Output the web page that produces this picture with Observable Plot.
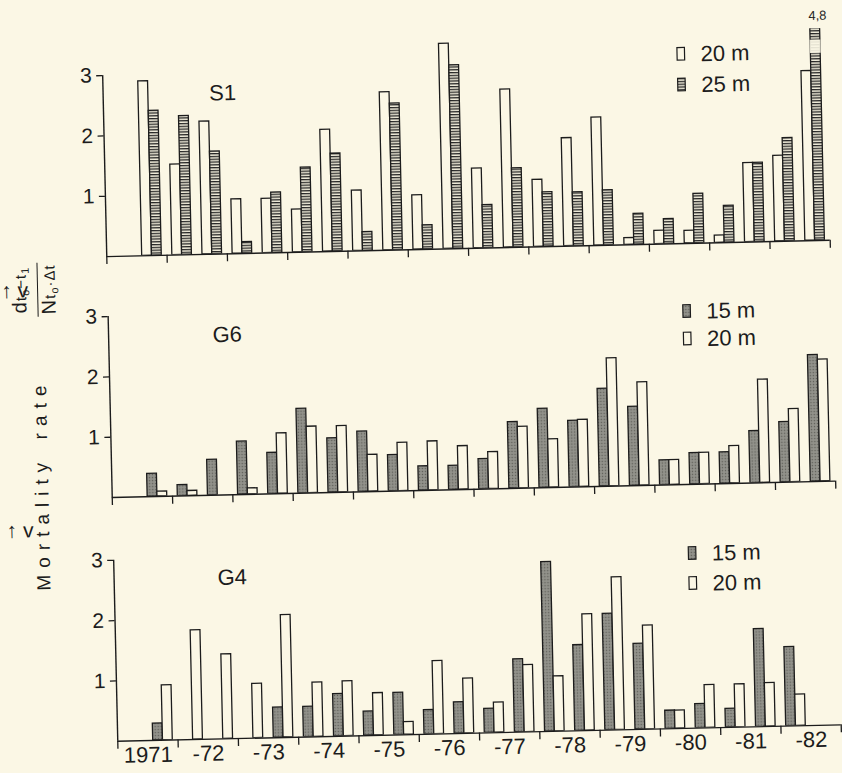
<!DOCTYPE html>
<html>
<head>
<meta charset="utf-8">
<script src="https://cdn.jsdelivr.net/npm/d3@7"></script>
<script src="https://cdn.jsdelivr.net/npm/@observablehq/plot@0.6"></script>
<style>
  html, body { margin: 0; padding: 0; background: #fbf7e5; overflow: hidden; }
  #fig {
    position: relative; width: 842px; height: 773px;
    transform: rotate(-1.3deg); transform-origin: 421px 386px;
    font-family: "Liberation Sans", Arial, Helvetica, sans-serif; color: #1c1c1c;
  }
  .panel { position: absolute; left: 0; width: 842px; }
  #overlay { position: absolute; left: 0; top: 0; pointer-events: none; }
  #frac {
    position: absolute; left: 39px; top: 281px;
    transform: translate(-50%, -50%) rotate(-90deg);
    text-align: center; white-space: nowrap; font-size: 20px; letter-spacing: 1px;
  }
  #frac .num { line-height: 22px; padding-bottom: 1px; }
  #frac .rule { height: 1.3px; background: #1c1c1c; width: 54px; margin: 0 auto; }
  #frac .den { line-height: 21px; }
  #frac small { font-size: 15px; }
  #frac sub { font-size: 11px; vertical-align: -3px; }
  #ytitle {
    position: absolute; left: 40px; top: 476px;
    transform: translate(-50%, -50%) rotate(-90deg);
    white-space: nowrap; font-size: 19px; letter-spacing: 7px;
  }
</style>
</head>
<body>
<svg width="0" height="0" style="position:absolute">
  <defs>
    <pattern id="hatch" width="4" height="2.8" patternUnits="userSpaceOnUse">
      <rect width="4" height="2.8" fill="#f1eddb"/>
      <rect width="4" height="1.3" fill="#262626"/>
    </pattern>
    <pattern id="stipple" width="3" height="3" patternUnits="userSpaceOnUse">
      <rect width="3" height="3" fill="#8b8b84"/>
      <rect x="0" y="0" width="1" height="1" fill="#5f5f59"/>
      <rect x="1.5" y="1.5" width="1" height="1" fill="#a6a69f"/>
    </pattern>
  </defs>
</svg>
<div id="fig">
  <div id="frac">
    <div class="num">d<small>t<sub>o</sub>−t<sub>1</sub></small></div>
    <div class="rule"></div>
    <div class="den">N<small>t<sub>o</sub>·Δt</small></div>
  </div>
  <div id="ytitle">Mortality&#8194;rate</div>
</div>
<script>
// Mortality rate per half-year period, 1971–1982.
// Each array holds 24 half-year slots: slot 0 = first half of 1971 ... slot 23 = second half of 1982.
const years = [1971, 1972, 1973, 1974, 1975, 1976, 1977, 1978, 1979, 1980, 1981, 1982];
const yearLabels = ["1971", "-72", "-73", "-74", "-75", "-76", "-77", "-78", "-79", "-80", "-81", "-82"];
const yTicks = [1, 2, 3];

// Station S1
const s1_20m = [null, 2.89, 1.50, 2.20, 0.90, 0.90, 0.71, 2.02, 1.00, 2.62, 0.90, 3.40,
                1.32, 2.62, 1.11, 1.79, 2.12, 0.11, 0.22, 0.21, 0.12, 1.31, 1.42, 2.81];
const s1_25m = [null, 2.40, 2.30, 1.70, 0.19, 1.00, 1.40, 1.62, 0.31, 2.43, 0.40, 3.04,
                0.71, 1.31, 0.90, 0.89, 0.91, 0.51, 0.41, 0.82, 0.61, 1.31, 1.71, 4.8];
// Station G6
const g6_15m = [null, 0.38, 0.18, 0.59, 0.88, 0.68, 1.40, 0.90, 1.00, 0.60, 0.40, 0.40,
                0.50, 1.10, 1.31, 1.10, 1.62, 1.31, 0.41, 0.52, 0.52, 0.86, 1.00, 2.10];
const g6_20m = [null, 0.08, 0.08, null, 0.10, 1.00, 1.10, 1.10, 0.61, 0.80, 0.81, 0.72,
                0.61, 1.02, 0.80, 1.11, 2.12, 1.71, 0.41, 0.52, 0.62, 1.71, 1.21, 2.02];
// Station G4
const g4_15m = [null, 0.28, null, null, null, 0.50, 0.50, 0.70, 0.40, 0.70, 0.40, 0.52,
                0.40, 1.21, 2.81, 1.42, 1.93, 1.42, 0.30, 0.40, 0.31, 1.62, 1.31, null];
const g4_20m = [null, 0.91, 1.81, 1.40, 0.90, 2.03, 0.90, 0.91, 0.70, 0.21, 1.21, 0.91,
                0.50, 1.11, 0.91, 1.93, 2.53, 1.72, 0.30, 0.71, 0.71, 0.72, 0.52, null];

// The off-scale S1 25 m bar (4,8) is cut with a break between these values
const s1Break = {slot: 23, from: 3.10, to: 3.32};

const BG = "#fbf7e5";
const INK = "#1c1c1c";
const FONT = '"Liberation Sans", Arial, Helvetica, sans-serif';
const BAR = 0.325;                 // share of a half-year slot taken by one bar
const PAD = (1 - 2 * BAR) / 2;     // gap on each side of a pair of bars
const X0 = years[0], X1 = years[years.length - 1] + 1;

const rows = (values, k) => values.flatMap((v, i) => v == null ? [] : [{slot: i, k, v}]);
const barX1 = d => X0 + d.slot / 2 + (PAD + d.k * BAR) / 2;
const barX2 = d => barX1(d) + BAR / 2;

function bars(values, k, fill) {
  return Plot.rect(rows(values, k), {
    x1: barX1, x2: barX2, y1: 0, y2: "v",
    fill, stroke: INK, strokeWidth: 1.3, clip: true
  });
}

function panel({top, height, marginTop, marginBottom, yMax, series, name, nameDx, nameDy, showYears, extra = []}) {
  const marks = [
    ...series.map(([values, fill], k) => bars(values, k, fill)),
    ...extra,
    Plot.ruleY([0], {x1: X0, x2: X1, stroke: INK, strokeWidth: 1.4}),
    Plot.ruleX([X0], {y1: 0, y2: 3, stroke: INK, strokeWidth: 1.4}),
    Plot.axisY(yTicks, {tickSize: 6, tickPadding: 5, fontSize: 21, stroke: INK, strokeWidth: 1.3, tickFormat: d3.format("d")}),
    Plot.axisX(d3.range(X0, X1 + 1), {tickSize: 8, stroke: INK, strokeWidth: 1.3, tickFormat: () => ""}),
    Plot.text([name], {frameAnchor: "top-left", dx: nameDx, dy: nameDy, textAnchor: "start", lineAnchor: "middle",
                        fontSize: 22, fill: INK, ariaLabel: "station"})
  ];
  if (showYears) {
    marks.push(Plot.axisX(years.map(y => y + 0.5), {
      tickSize: 0, tickPadding: 6, fontSize: 22,
      tickFormat: d => yearLabels[Math.floor(d) - X0]
    }));
  }
  const svg = Plot.plot({
    width: 842, height, marginLeft: 109.3, marginRight: 9.1, marginTop, marginBottom,
    x: {domain: [X0, X1], axis: null},
    y: {domain: [0, yMax], axis: null},
    style: {background: "transparent", fontFamily: FONT, color: INK, overflow: "visible"},
    marks
  });
  d3.select(svg).selectAll('g[aria-label="station"] text').attr("letter-spacing", 4);
  const div = document.createElement("div");
  div.className = "panel";
  div.style.top = top + "px";
  div.append(svg);
  document.getElementById("fig").append(div);
}

// S1: 20 m white, 25 m hatched; the 4,8 bar is clipped at the panel top
const brokenX = {slot: s1Break.slot, k: 1};
panel({
  top: 0, height: 269, marginTop: 37.2, marginBottom: 20, yMax: 3.51,
  series: [[s1_20m, BG], [s1_25m, "url(#hatch)"]],
  name: "S1", nameDx: 106, nameDy: 51,
  extra: [
    Plot.rect([s1Break], {x1: () => barX1(brokenX) - 0.5 / 60, x2: () => barX2(brokenX) + 0.5 / 60,
                          y1: "from", y2: "to", fill: BG, fillOpacity: 0.9}),
    Plot.text([s1_25m[s1Break.slot]], {x: () => (barX1(brokenX) + barX2(brokenX)) / 2 + 0.04, y: 3.51, dy: -13,
                                       text: d => String(d).replace(".", ","), fontSize: 13, fill: INK})
  ]
});

// G6: 15 m grey, 20 m white
panel({
  top: 270, height: 240, marginTop: 39, marginBottom: 20, yMax: 3,
  series: [[g6_15m, "url(#stipple)"], [g6_20m, BG]],
  name: "G6", nameDx: 104, nameDy: 21
});

// G4: 15 m grey, 20 m white, with year labels
panel({
  top: 510, height: 263, marginTop: 42.8, marginBottom: 39.2, yMax: 3,
  series: [[g4_15m, "url(#stipple)"], [g4_20m, BG]],
  name: "G4", nameDx: 103.5, nameDy: 20, showYears: true
});

// Legends for the three panels
const overlay = d3.select("#fig").append("svg")
  .attr("id", "overlay").attr("width", 842).attr("height", 773)
  .style("font-family", FONT).attr("fill", INK);

const legends = [
  [{y: 59.8, fill: BG, text: "20 m"}, {y: 90.5, fill: "url(#hatch)", text: "25 m"}],
  [{y: 317.0, fill: "url(#stipple)", text: "15 m"}, {y: 344.5, fill: BG, text: "20 m"}],
  [{y: 559.1, fill: "url(#stipple)", text: "15 m"}, {y: 589.1, fill: BG, text: "20 m"}]
];
for (const entry of legends.flat()) {
  overlay.append("rect").attr("x", 684.5).attr("y", entry.y - 6.3).attr("width", 7.5).attr("height", 12.6)
    .attr("fill", entry.fill).attr("stroke", INK).attr("stroke-width", 1.2);
  overlay.append("text").attr("x", 708).attr("y", entry.y + 7.9).attr("font-size", 22).text(entry.text);
}
</script>
</body>
</html>
